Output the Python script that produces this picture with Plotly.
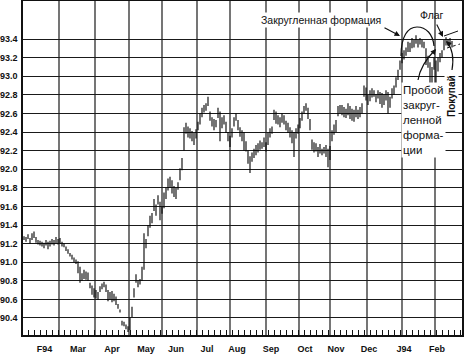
import plotly.graph_objects as go

# ---- data (price bars, one per trading session) ----
highs = [
 91.28,91.27,91.30,91.26,91.31,91.33,91.27,91.24,91.23,91.22,91.21,91.24,91.22,91.23,91.25,91.24,91.27,91.25,
 91.26,91.22,91.20,91.17,91.14,91.10,91.08,91.05,91.03,91.01,90.95,90.88,90.92,90.90,90.89,90.78,90.75,90.72,
 90.70,90.68,90.74,90.77,90.79,90.76,90.70,90.68,90.69,90.66,90.63,90.55,90.49,90.37,90.36,90.33,90.31,
 90.40,90.52,90.72,90.87,90.80,90.82,90.95,91.31,91.25,91.40,91.50,91.53,91.68,91.62,91.72,91.65,91.60,
 91.75,91.80,91.90,91.92,91.88,91.82,91.80,91.86,92.01,92.12,92.45,92.50,92.46,92.44,92.41,92.39,92.43,
 92.51,92.60,92.66,92.69,92.71,92.78,92.62,92.56,92.54,92.53,92.66,92.62,92.56,92.58,92.51,92.40,92.36,
 92.44,92.56,92.60,92.53,92.45,92.42,92.40,92.30,92.20,92.14,92.18,92.22,92.26,92.28,92.31,92.29,92.34,92.29,
 92.39,92.44,92.46,92.64,92.62,92.58,92.56,92.60,92.58,92.52,92.50,92.45,92.42,92.40,92.44,92.48,
 92.55,92.62,92.68,92.71,92.66,92.54,92.32,92.29,92.28,92.24,92.27,92.22,92.24,92.26,92.22,92.25,
 92.42,92.48,92.53,92.68,92.69,92.69,92.67,92.65,92.71,92.68,92.65,92.64,92.68,92.64,92.67,92.71,92.90,92.88,
 92.80,92.85,92.87,92.85,92.81,92.85,92.83,92.82,92.80,92.85,92.83,92.78,92.87,92.90,92.99,93.07,93.17,93.25,
 93.28,93.31,93.37,93.36,93.41,93.39,93.44,93.39,93.41,93.39,93.37,93.30,93.22,93.15,93.10,93.20,
 93.17,93.20,93.25,93.28,93.39,93.42,93.40,93.41,93.38,
]
lows = [
 91.24,91.22,91.25,91.20,91.24,91.26,91.21,91.19,91.18,91.17,91.15,91.18,91.14,91.17,91.19,91.18,91.20,91.19,
 91.20,91.17,91.16,91.12,91.09,91.06,91.03,91.00,90.98,90.88,90.78,90.80,90.82,90.81,90.80,90.72,90.65,90.62,
 90.61,90.60,90.68,90.71,90.73,90.68,90.58,90.60,90.57,90.58,90.54,90.50,90.46,90.32,90.31,90.28,90.25,
 90.27,90.41,90.62,90.78,90.73,90.76,90.80,90.92,91.15,91.28,91.37,91.42,91.55,91.50,91.62,91.45,91.52,
 91.58,91.68,91.77,91.80,91.74,91.70,91.68,91.78,91.88,91.99,92.20,92.38,92.34,92.33,92.30,92.26,92.33,
 92.42,92.48,92.56,92.61,92.63,92.68,92.52,92.46,92.42,92.45,92.55,92.30,92.44,92.48,92.39,92.30,92.24,
 92.34,92.46,92.52,92.42,92.35,92.30,92.20,92.19,92.06,91.96,92.08,92.12,92.15,92.18,92.21,92.22,92.24,92.19,
 92.26,92.34,92.38,92.53,92.49,92.48,92.45,92.50,92.48,92.42,92.39,92.34,92.28,92.13,92.33,92.38,
 92.44,92.52,92.60,92.63,92.54,92.42,92.21,92.18,92.19,92.13,92.17,92.15,92.17,92.13,92.02,92.10,
 92.30,92.37,92.40,92.57,92.60,92.58,92.56,92.55,92.58,92.54,92.52,92.51,92.56,92.54,92.56,92.60,92.78,92.74,
 92.69,92.73,92.77,92.78,92.72,92.76,92.70,92.66,92.69,92.74,92.60,92.66,92.76,92.80,92.88,92.96,93.07,93.14,
 93.18,93.22,93.26,93.26,93.30,93.31,93.35,93.31,93.34,93.31,93.30,93.12,93.09,92.86,92.92,93.07,
 92.75,93.05,93.15,93.20,93.28,93.33,93.34,93.33,93.31,
]
month_labels = ["F94", "Mar", "Apr", "May", "Jun", "Jul", "Aug", "Sep", "Oct", "Nov", "Dec", "J94", "Feb"]
price_ticks = [90.4, 90.6, 90.8, 91.0, 91.2, 91.4, 91.6, 91.8, 92.0, 92.2, 92.4, 92.6, 92.8, 93.0, 93.2, 93.4]

# ---- layout constants ----
label_pos = [10.25, 27, 44, 61, 76, 91.5, 106.5, 123.5, 140.5, 156, 172.5, 190, 206.5]
month_bounds = [17.5, 35.5, 52.5, 69, 86.5, 103, 121, 137.5, 153, 171.5, 189, 205.5]
W, H = 465, 359
L, R, T, B = 23, 462, 1, 335

def pxp(x):
    return (x - L) / (R - L)

def pyp(y):
    return (B - y) / (B - T)

# build bar segments
xs, ys = [], []
for i, (h, l) in enumerate(zip(highs, lows)):
    xs += [i, i, None]
    ys += [h, l, None]

fig = go.Figure()
fig.add_trace(go.Scatter(x=xs, y=ys, mode="lines", line=dict(color="black", width=1.1),
                         hoverinfo="skip", showlegend=False))

shapes = []
for mb in month_bounds:
    shapes.append(dict(type="line", xref="x", yref="paper", x0=mb, x1=mb, y0=0, y1=1,
                       line=dict(color="#1a1a1a", width=1.2), layer="below"))

def P(x, y):
    return f"{pxp(x):.4f},{pyp(y):.4f}"

# dome arc (rounded formation)
dome = ("M " + P(401, 56) + " C " + P(401, 36) + " " + P(408, 27) + " " + P(417, 27) +
        " C " + P(426, 27) + " " + P(433, 34) + " " + P(434, 46))
shapes.append(dict(type="path", xref="paper", yref="paper", path=dome,
                   line=dict(color="#111", width=1.2)))
# curved arrow from breakout text
c1 = "M " + P(418, 80) + " C " + P(420, 68) + " " + P(428, 57) + " " + P(435, 50)
shapes.append(dict(type="path", xref="paper", yref="paper", path=c1, line=dict(color="#111", width=1.2)))
# curved arrow from "Покупай"
c2 = "M " + P(452, 70) + " C " + P(454, 58) + " " + P(452, 48) + " " + P(447, 42)
shapes.append(dict(type="path", xref="paper", yref="paper", path=c2, line=dict(color="#111", width=1.2)))
# flag lines
shapes.append(dict(type="line", xref="paper", yref="paper", x0=pxp(444), y0=pyp(36), x1=pxp(458), y1=pyp(31),
                   line=dict(color="#111", width=1)))
shapes.append(dict(type="line", xref="paper", yref="paper", x0=pxp(447), y0=pyp(48), x1=pxp(460), y1=pyp(44),
                   line=dict(color="#111", width=1, dash="dot")))

fnt = "Liberation Sans, Arial, sans-serif"
C = dict(xanchor="center", yanchor="middle")
ann = []
ann.append(dict(xref="paper", yref="paper", x=pxp(321), y=pyp(20), text="Закругленная формация",
                showarrow=False, font=dict(family=fnt, size=10.5, color="#111"), bgcolor="white", **C))
ann.append(dict(xref="paper", yref="paper", x=pxp(400), y=pyp(36), ax=-17, ay=-9, text="",
                showarrow=True, arrowhead=2, arrowsize=1, arrowwidth=1.1, arrowcolor="#111"))
ann.append(dict(xref="paper", yref="paper", x=pxp(432), y=pyp(15), text="Флаг",
                showarrow=False, font=dict(family=fnt, size=10.5, color="#111"), **C))
ann.append(dict(xref="paper", yref="paper", x=pxp(443), y=pyp(37), ax=-7, ay=-14, text="",
                showarrow=True, arrowhead=2, arrowsize=1, arrowwidth=1.1, arrowcolor="#111"))
ann.append(dict(xref="paper", yref="paper", x=pxp(401), y=pyp(82), xanchor="left", yanchor="top",
                text="Пробой<br>закруг-<br>ленной<br>форма-<br>ции", align="left",
                showarrow=False, font=dict(family=fnt, size=11.5, color="#111"), bgcolor="white"))
ann.append(dict(xref="paper", yref="paper", x=pxp(436), y=pyp(49), ax=-4, ay=5, text="",
                showarrow=True, arrowhead=2, arrowsize=1, arrowwidth=1.1, arrowcolor="#111"))
ann.append(dict(xref="paper", yref="paper", x=pxp(446), y=pyp(41), ax=4, ay=4, text="",
                showarrow=True, arrowhead=2, arrowsize=1, arrowwidth=1.1, arrowcolor="#111"))
ann.append(dict(xref="paper", yref="paper", x=pxp(452), y=pyp(96), text="<b>Покупай</b>", textangle=-90,
                showarrow=False, font=dict(family=fnt, size=10, color="#111"), bgcolor="white", **C))

fig.update_layout(
    width=W, height=H,
    margin=dict(l=L, r=W - R, t=T, b=H - B, pad=0, autoexpand=False),
    paper_bgcolor="white", plot_bgcolor="white",
    shapes=shapes, annotations=ann,
    xaxis=dict(range=[-0.5, 219], tickmode="array", tickvals=label_pos, ticktext=month_labels,
               showgrid=False, zeroline=False, ticks="", ticklabelstandoff=4, automargin=False,
               tickfont=dict(family=fnt, size=9, color="#111", weight="bold"),
               showline=True, mirror=True, linecolor="#111", linewidth=1.5,
               minor=dict(tickmode="linear", tick0=2, dtick=3, ticks="inside", ticklen=5,
                          tickcolor="#111", tickwidth=1, showgrid=False)),
    yaxis=dict(range=[90.217, 93.809], tickmode="array", tickvals=price_ticks,
               ticktext=[f"{v:.1f}" for v in price_ticks], showgrid=True, gridcolor="#1a1a1a", gridwidth=1.2,
               zeroline=False, ticks="", ticklabelstandoff=2, automargin=False,
               tickfont=dict(family=fnt, size=9, color="#111", weight="bold"),
               showline=True, mirror=True, linecolor="#111", linewidth=1.5),
)

fig.write_html("out.html", config={"displayModeBar": False},
               post_script="document.body.style.margin='0';document.body.style.overflow='hidden';")
